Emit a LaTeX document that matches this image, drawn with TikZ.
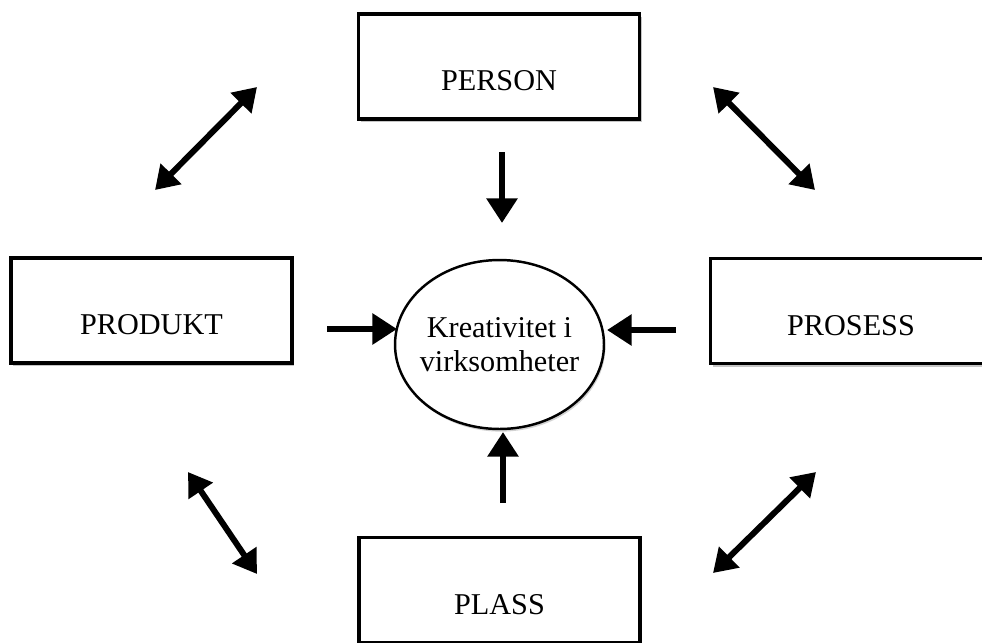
\documentclass[tikz,border=0pt]{standalone}
\usepackage{fontspec}
\setmainfont{Liberation Serif}
\usetikzlibrary{arrows.meta,shadows,shapes.geometric}

\tikzset{
  box/.style={draw, line width=2pt, fill=white, minimum width=5.62cm, minimum height=2.1cm,
    inner sep=0pt, text height=1.2cm, text depth=0.24cm,
    drop shadow={shadow xshift=1.2pt, shadow yshift=-1.8pt, fill=black!45}},
  core/.style={ellipse, draw, line width=1.4pt, fill=white, minimum width=4.18cm, minimum height=3.38cm,
    inner xsep=-0.4cm, inner ysep=0pt, align=center,
    drop shadow={shadow xshift=0.8pt, shadow yshift=-1.5pt, fill=black!35}},
  arr/.style={line width=3.8pt, -{Triangle[length=14pt,width=17pt]}},
  dblarr/.style={line width=3.4pt, {Triangle[length=13pt,width=16pt]}-{Triangle[length=13pt,width=16pt]}}
}

\begin{document}
\begin{tikzpicture}[x=0.02cm, y=-0.02cm, font=\fontsize{17.2}{19.5}\selectfont]
\useasboundingbox (0,0) rectangle (982,642);
\clip (0,0) rectangle (982,642);

\node[box] (person) at (499,66.5) {PERSON};
\node[box] (produkt) at (151.5,310.5) {PRODUKT};
\node[box] (prosess) at (851,311) {PROSESS};
\node[box] (plass) at (499.5,590) {PLASS};
\node[core] (kreativ) at (499.5,344.5) {Kreativitet i\\virksomheter};

\coordinate (n1) at (502,152); \coordinate (n2) at (502,223);
\coordinate (w1) at (327,329); \coordinate (w2) at (397,329);
\coordinate (e1) at (676,330); \coordinate (e2) at (607,330);
\coordinate (s1) at (503,503); \coordinate (s2) at (503,432);
\draw[arr] (n1) -- (n2);
\draw[arr] (w1) -- (w2);
\draw[arr] (e1) -- (e2);
\draw[arr] (s1) -- (s2);

\coordinate (nw1) at (155,190); \coordinate (nw2) at (257,87);
\coordinate (ne1) at (713,87);  \coordinate (ne2) at (815,190);
\coordinate (sw1) at (188,472); \coordinate (sw2) at (257,574);
\coordinate (se1) at (713,573); \coordinate (se2) at (816,472);
\draw[dblarr] (nw1) -- (nw2);
\draw[dblarr] (ne1) -- (ne2);
\draw[dblarr] (sw1) -- (sw2);
\draw[dblarr] (se1) -- (se2);
\end{tikzpicture}
\end{document}
